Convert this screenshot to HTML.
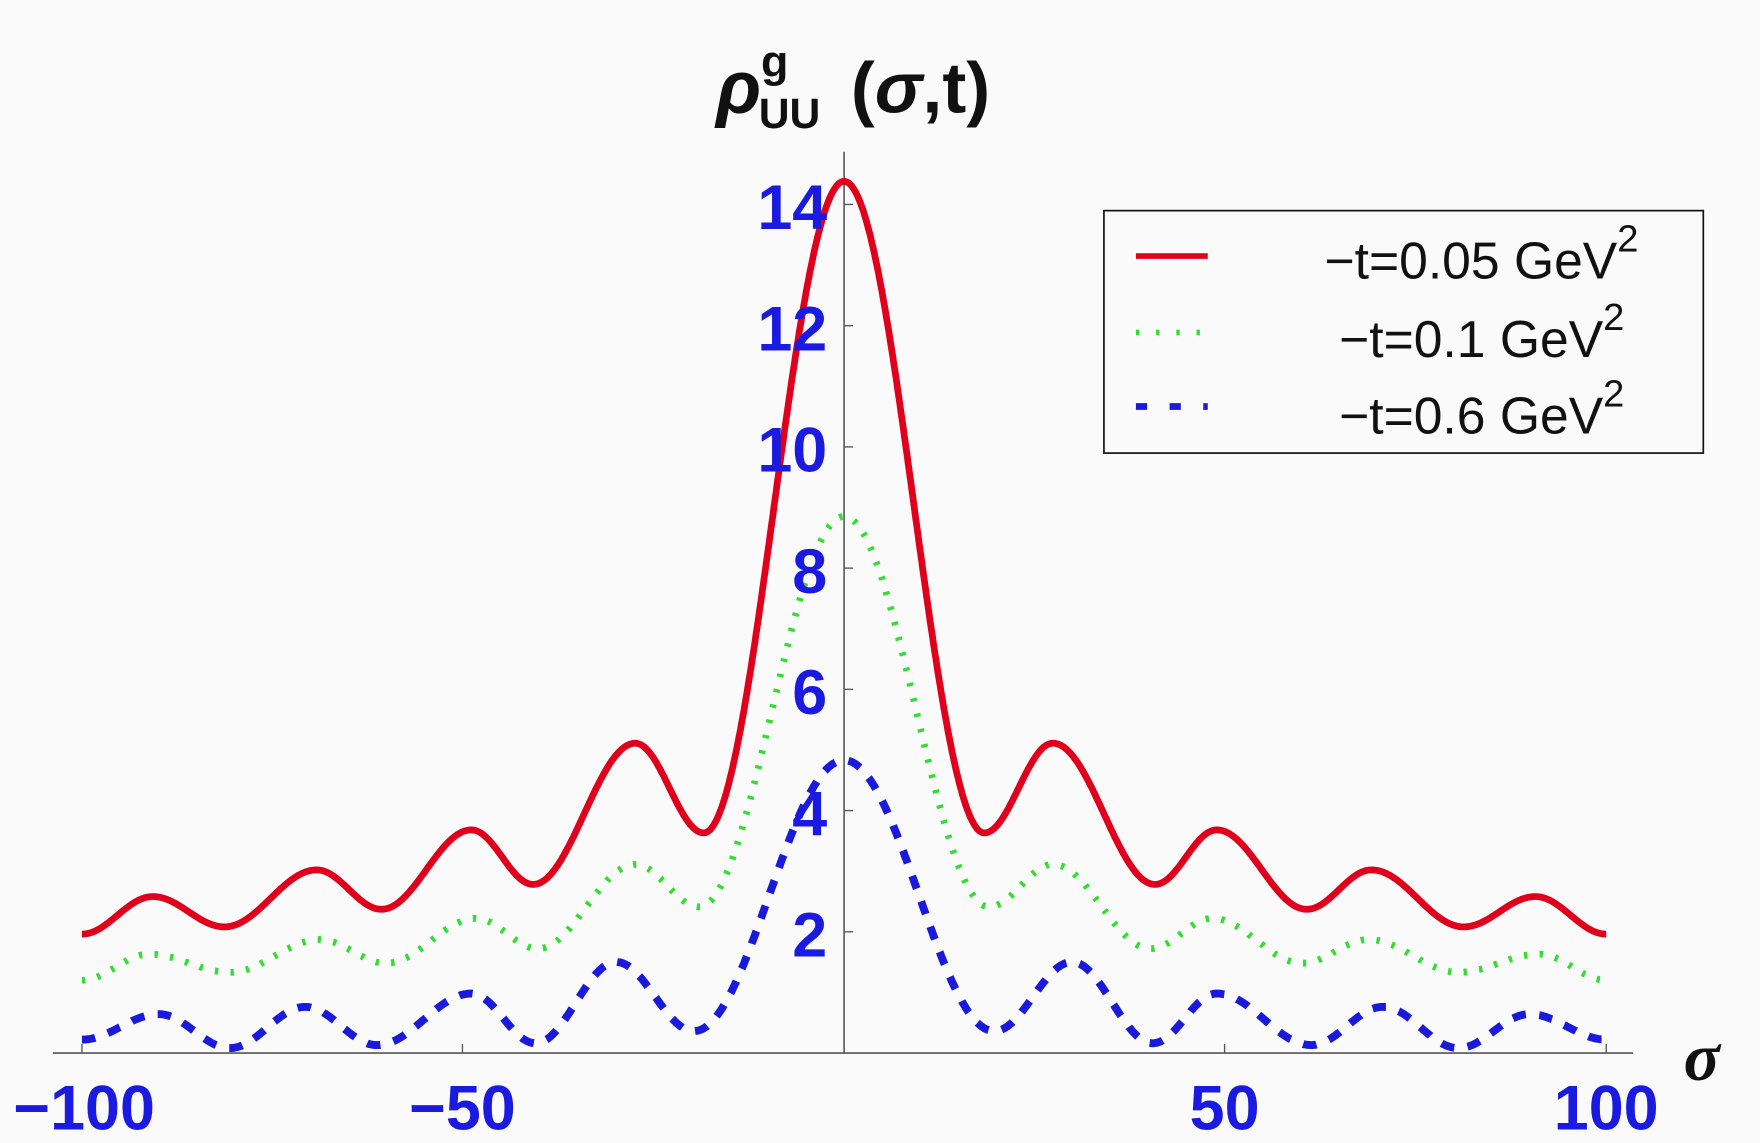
<!DOCTYPE html>
<html><head><meta charset="utf-8"><style>
html,body{margin:0;padding:0;background:#fafafa;}
svg{display:block;}
</style></head><body>
<svg id="s" width="1760" height="1143" viewBox="0 0 1568 1018" xmlns="http://www.w3.org/2000/svg">
<rect width="1568" height="1018" fill="#fafafa"/>
<line x1="47" y1="938" x2="1455" y2="938" stroke="#555" stroke-width="1.4"/>
<line x1="752" y1="135" x2="752" y2="938" stroke="#555" stroke-width="1.4"/>
<g stroke="#555" stroke-width="1.2">
<line x1="73" y1="938" x2="73" y2="930"/><line x1="412" y1="938" x2="412" y2="930"/><line x1="1091" y1="938" x2="1091" y2="930"/><line x1="1431" y1="938" x2="1431" y2="930"/>
<line x1="752" y1="830" x2="760" y2="830"/><line x1="752" y1="722" x2="760" y2="722"/><line x1="752" y1="614" x2="760" y2="614"/><line x1="752" y1="506" x2="760" y2="506"/><line x1="752" y1="398" x2="760" y2="398"/><line x1="752" y1="290" x2="760" y2="290"/><line x1="752" y1="182" x2="760" y2="182"/>
</g>
<g id="curves"></g>
<g font-family="Liberation Sans, sans-serif" font-weight="bold" font-size="56" fill="#1a1ae0">
<text x="75" y="1006" text-anchor="middle">−100</text>
<text x="412" y="1006" text-anchor="middle">−50</text>
<text x="1091" y="1006" text-anchor="middle">50</text>
<text x="1431" y="1006" text-anchor="middle">100</text>
<g text-anchor="end">
<text x="737" y="852">2</text><text x="737" y="744">4</text><text x="737" y="636">6</text><text x="737" y="528">8</text>
<text x="737" y="420">10</text><text x="737" y="312">12</text><text x="737" y="204">14</text>
</g></g>
<text x="1500" y="962" font-family="Liberation Serif, serif" font-style="italic" font-weight="bold" font-size="60" fill="#111">σ</text>
<g font-family="Liberation Sans, sans-serif" font-weight="bold" fill="#111">
<text x="638" y="100" font-size="66" font-style="italic">ρ</text>
<text x="678" y="68" font-size="40">g</text>
<text x="676" y="114" font-size="38">UU</text>
<text x="758" y="100" font-size="64">(<tspan font-style="italic">σ</tspan>,t)</text>
</g>
<rect x="983.5" y="187.5" width="534" height="216" fill="#fafafa" stroke="#111" stroke-width="1.5"/>
<line x1="1012" y1="228" x2="1076" y2="228" stroke="#e0001b" stroke-width="5"/>
<line x1="1012" y1="296" x2="1076" y2="296" stroke="#33dd33" stroke-width="5" stroke-dasharray="3 15"/>
<line x1="1012" y1="362" x2="1076" y2="362" stroke="#1a1adc" stroke-width="6" stroke-dasharray="10 20"/>
<g font-family="Liberation Sans, sans-serif" font-size="46" fill="#111">
<text x="1180" y="248">−t=0.05 GeV<tspan font-size="34" dy="-24">2</tspan></text>
<text x="1193" y="318">−t=0.1 GeV<tspan font-size="34" dy="-24">2</tspan></text>
<text x="1193" y="386">−t=0.6 GeV<tspan font-size="34" dy="-24">2</tspan></text>
</g>
</svg>
<script>
function Y(v){return 939-54*v;}
function X(s){return 752+6.79*s;}
var sets=[
 {c:"#e0001b",w:6,d:"",p:[[0,14.4],[18.4,3.65],[27.4,5.13],[40.8,2.8],[48.9,3.7],[60.7,2.39],[69.2,3.04],[81.3,2.1],[90.7,2.6],[100,1.98]]},
 {c:"#33dd33",w:6,d:"3 11",p:[[0,8.87],[19,2.43],[27.4,3.13],[40.2,1.74],[48.3,2.24],[60.1,1.5],[68.8,1.89],[80.6,1.35],[91.2,1.65],[100,1.22]]},
 {c:"#1a1adc",w:7,d:"12 12",p:[[0,4.85],[19.7,0.38],[29.9,1.52],[40.5,0.18],[48.9,1.0],[61.3,0.15],[70.7,0.78],[80.6,0.1],[89.9,0.66],[100,0.24]]}
];
var g=document.getElementById("curves"),ns="http://www.w3.org/2000/svg";
sets.forEach(function(o){
 var pts=[];
 for(var i=-1000;i<=1000;i++){
  var s=i/10,a=Math.abs(s),P=o.p,v=P[P.length-1][1];
  for(var k=0;k<P.length-1;k++){if(a>=P[k][0]&&a<=P[k+1][0]){var t=(a-P[k][0])/(P[k+1][0]-P[k][0]);v=P[k][1]+(P[k+1][1]-P[k][1])*(1-Math.cos(Math.PI*t))/2;break;}}
  pts.push(X(s).toFixed(1)+","+Y(v).toFixed(1));
 }
 var e=document.createElementNS(ns,"polyline");
 e.setAttribute("points",pts.join(" "));e.setAttribute("fill","none");
 e.setAttribute("stroke",o.c);e.setAttribute("stroke-width",o.w);
 if(o.d)e.setAttribute("stroke-dasharray",o.d);
 e.setAttribute("stroke-linejoin","round");
 g.appendChild(e);
});
</script>
</body></html>
